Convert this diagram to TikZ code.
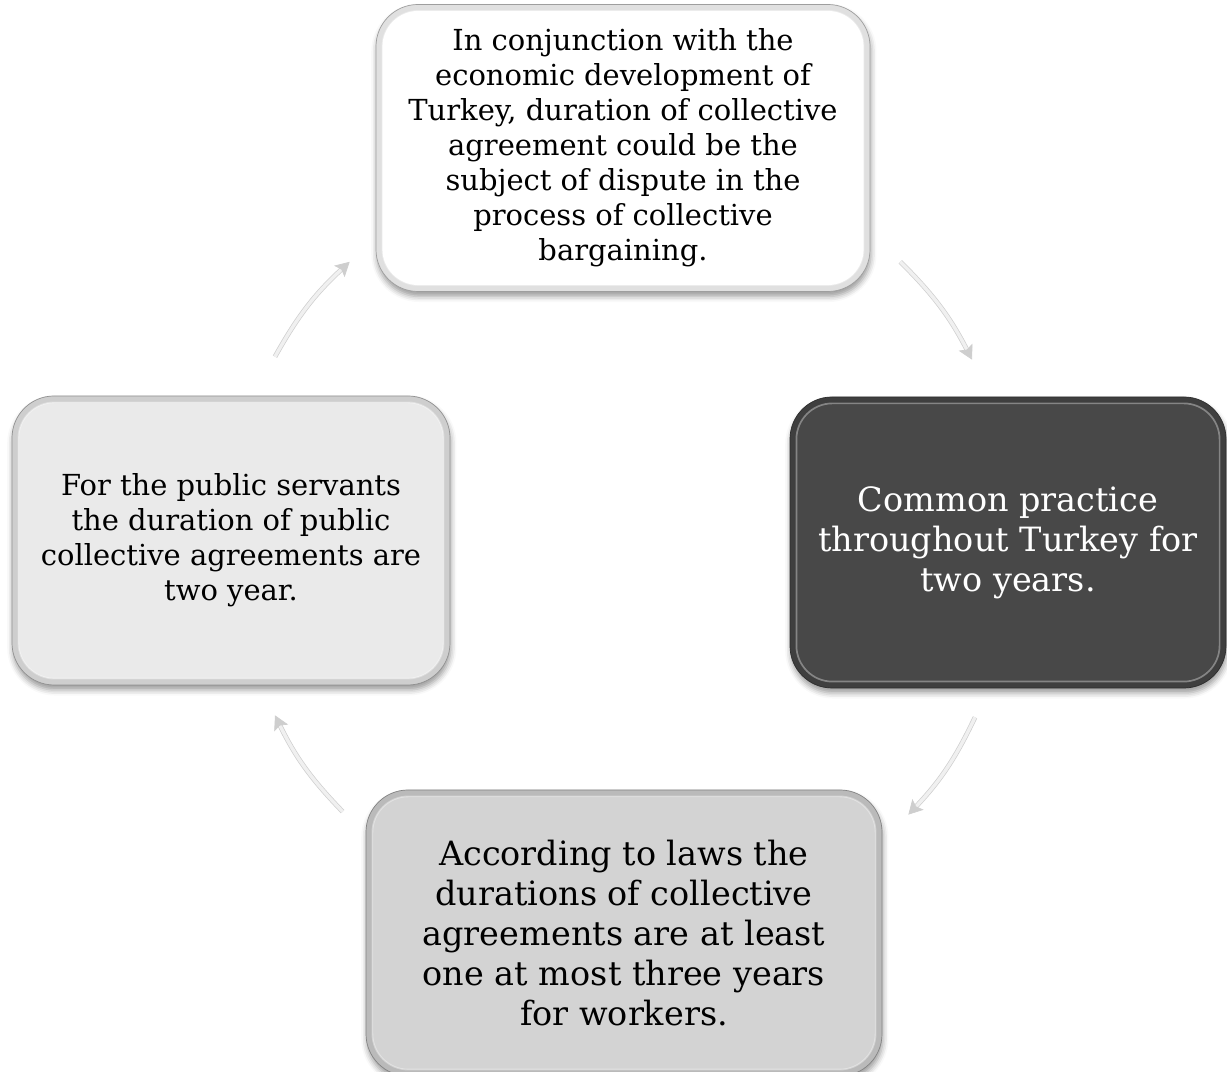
\documentclass[tikz,border=0pt]{standalone}
\usepackage{fontspec}
\setmainfont{DejaVu Serif}
\usetikzlibrary{
  arrows.meta,
  calc,
  shadows.blur
}
\definecolor{facewhite}{RGB}{255,255,255}
\definecolor{facelight}{RGB}{234,234,234}
\definecolor{facemid}{RGB}{211,211,211}
\definecolor{facedark}{RGB}{72,72,72}
\definecolor{arrowfill}{RGB}{240,240,240}
\definecolor{arrowrim}{RGB}{206,206,206}
\tikzset{
  card/.style={
    rectangle,
    rounded corners=1.05cm,
    fill=#1!88!black,
    draw=#1!62!black,
    line width=0.5pt,
    align=center,
    inner sep=0pt,
    blur shadow={shadow xshift=0.6pt,shadow yshift=-3.5pt,shadow blur radius=4pt,shadow opacity=40},
    path picture={
      \draw[fill=#1,draw=white,draw opacity=0.35,line width=1.2pt,rounded corners=0.9cm]
        ([shift={(0.16,-0.16)}]path picture bounding box.north west)
        rectangle ([shift={(-0.16,0.16)}]path picture bounding box.south east);
    }
  },
  smalltext/.style={font=\fontsize{20.6}{24.9}\selectfont},
  largetext/.style={font=\fontsize{23.8}{28.45}\selectfont},
  cyclearrow/.style={
    draw=arrowrim,
    double=arrowfill,
    double distance=2.4pt,
    line width=0.5pt,
    -{Stealth[length=10pt,width=11pt,inset=2pt]}
  }
}
\begin{document}
\begin{tikzpicture}
  \useasboundingbox (0,0) rectangle (30.675,26.8);

  \node[card=facewhite,smalltext,minimum width=12.35cm,minimum height=7.175cm] (dispute) at (15.575,23.1)
    {In conjunction with the\\economic development of\\Turkey, duration of collective\\agreement could be the\\subject of dispute in the\\process of collective\\bargaining.};
  \node[card=facedark,largetext,text=white,minimum width=10.9cm,minimum height=7.275cm] (practice) at (25.2,13.2375)
    {Common practice\\throughout Turkey for\\two years.};
  \node[card=facemid,largetext,minimum width=12.9cm,minimum height=7.15cm] (laws) at (15.6,3.475)
    {According to laws the\\durations of collective\\agreements are at least\\one at most three years\\for workers.};
  \node[card=facelight,smalltext,minimum width=10.95cm,minimum height=7.225cm] (servants) at (5.775,13.2875)
    {For the public servants\\the duration of public\\collective agreements are\\two year.};

  \draw[cyclearrow] ([shift={(1.1,0.975)}]servants.north) to[bend left=9] ([shift={(-0.65,0.75)}]dispute.south west);
  \draw[cyclearrow] ([shift={(0.75,0.75)}]dispute.south east) to[bend left=9] ([shift={(-0.9,0.925)}]practice.north);
  \draw[cyclearrow] ([shift={(-0.825,-0.725)}]practice.south) to[bend left=9] ([shift={(0.65,-0.625)}]laws.north east);
  \draw[cyclearrow] ([shift={(-0.575,-0.55)}]laws.north west) to[bend left=9] ([shift={(1.1,-0.75)}]servants.south);
\end{tikzpicture}
\end{document}
